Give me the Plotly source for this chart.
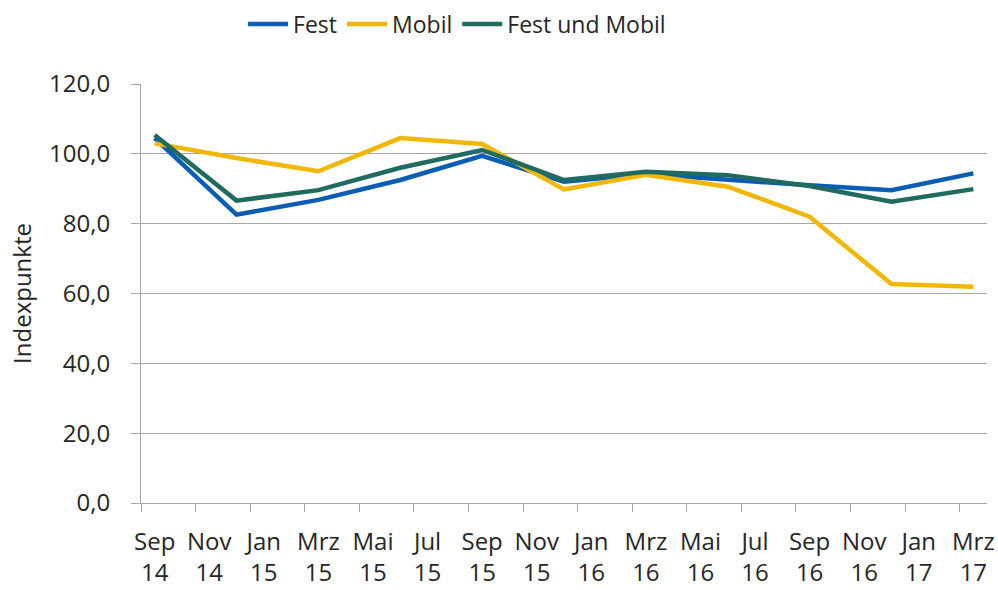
import plotly.graph_objects as go

# Quarterly observation dates (year, month)
quarters = [(2014, 9), (2014, 12), (2015, 3), (2015, 6), (2015, 9), (2015, 12),
            (2016, 3), (2016, 6), (2016, 9), (2016, 12), (2017, 3)]

fest = [104.5, 82.6, 86.8, 92.5, 99.4, 92.0, 94.2, 92.5, 91.0, 89.6, 94.4]
mobil = [103.0, 98.8, 95.0, 104.5, 102.8, 89.8, 94.0, 90.6, 82.0, 62.7, 61.9]
fest_und_mobil = [105.4, 86.6, 89.6, 96.0, 101.1, 92.5, 94.9, 93.9, 90.8, 86.3, 89.9]

tick_labels = ["Sep<br>14", "Nov<br>14", "Jan<br>15", "Mrz<br>15", "Mai<br>15", "Jul<br>15",
               "Sep<br>15", "Nov<br>15", "Jan<br>16", "Mrz<br>16", "Mai<br>16", "Jul<br>16",
               "Sep<br>16", "Nov<br>16", "Jan<br>17", "Mrz<br>17"]

y_ticks = [0, 20, 40, 60, 80, 100, 120]

start_y, start_m = quarters[0]
x_idx = [(y - start_y) * 12 + (m - start_m) for y, m in quarters]
n_months = 31
label_pos = list(range(0, n_months, 2))
boundary_pos = [p - 0.5 for p in label_pos]

FONT = "Open Sans"
TXT = "#262626"
GRID = "#A6A6A6"

fig = go.Figure()
series = [("Fest", fest, "#0A5DB4"), ("Mobil", mobil, "#F2B705"),
          ("Fest und Mobil", fest_und_mobil, "#1F6B60")]
for name, vals, col in series:
    fig.add_trace(go.Scatter(x=x_idx, y=vals, name=name, mode="lines",
                             line=dict(color=col, width=4.5)))

# invisible trace on xaxis2 for boundary tick marks
fig.add_trace(go.Scatter(x=[boundary_pos[0]], y=[0], xaxis="x2", mode="markers",
                         marker=dict(opacity=0), showlegend=False, hoverinfo="skip"))

fig.update_layout(
    width=998, height=590,
    margin=dict(l=141, r=11, t=84, b=87, autoexpand=False),
    paper_bgcolor="white", plot_bgcolor="white",
    separators=",.",
    font=dict(family=FONT, size=24, color=TXT),
    legend=dict(orientation="h", xref="container", x=0.458, xanchor="center",
                yref="container", y=1 - 24 / 590, yanchor="middle",
                font=dict(size=23, color=TXT), itemwidth=40,
                bgcolor="rgba(0,0,0,0)"),
    xaxis=dict(range=[-0.5, n_months - 0.5], tickmode="array", tickvals=label_pos,
               ticktext=tick_labels, ticks="outside", ticklen=17,
               tickcolor="rgba(0,0,0,0)", showgrid=False, zeroline=False,
               showline=True, linecolor=GRID, linewidth=1, automargin=False,
               tickfont=dict(size=24, color=TXT), tickangle=0),
    xaxis2=dict(range=[-0.5, n_months - 0.5], overlaying="x", side="bottom",
                tickmode="array", tickvals=boundary_pos, ticktext=[""] * len(boundary_pos),
                ticks="outside", ticklen=8, tickcolor=GRID, tickwidth=1, automargin=False,
                showgrid=False, zeroline=False, showline=False, showticklabels=False),
    yaxis=dict(range=[0, 120], tickmode="array", tickvals=y_ticks, tickformat=".1f",
               showgrid=True, gridcolor=GRID, gridwidth=1, zeroline=False,
               showline=True, linecolor=GRID, linewidth=1, automargin=False,
               ticks="outside", ticklen=9, tickcolor=GRID, ticklabelstandoff=16,
               tickfont=dict(size=24, color=TXT),
               title=dict(text="Indexpunkte", font=dict(size=24, color=TXT), standoff=10)),
)

fig.write_html("out.html", config={"displayModeBar": False},
               post_script="document.body.style.margin='0';")
